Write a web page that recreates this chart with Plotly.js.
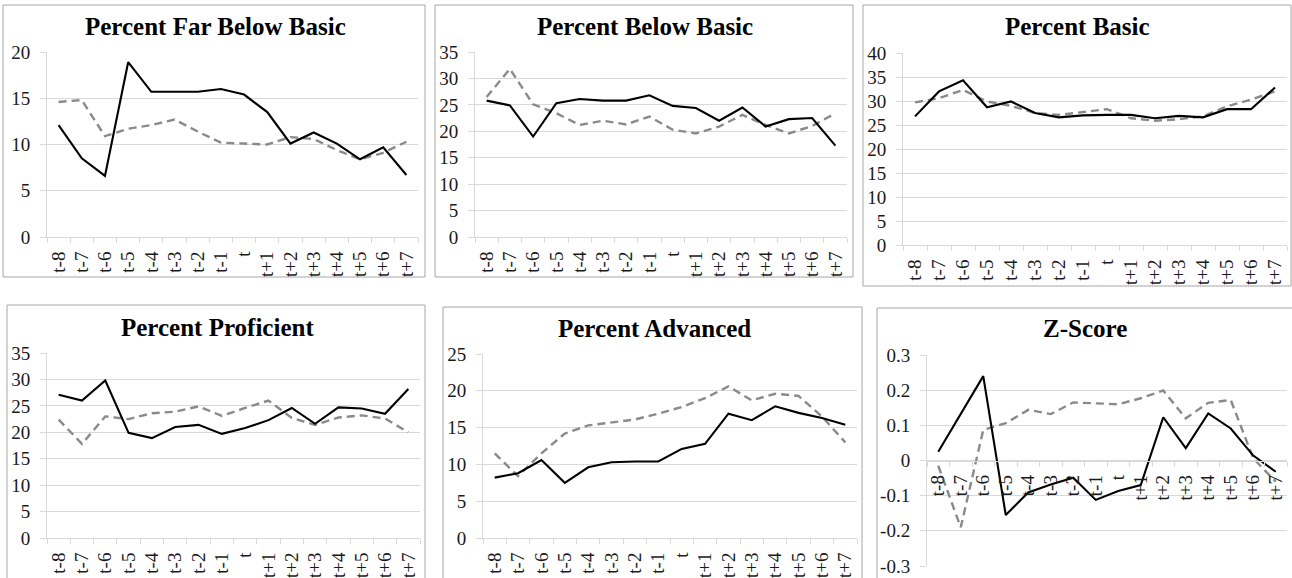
<!DOCTYPE html>
<html>
<head>
<meta charset="utf-8">
<script src="https://cdn.plot.ly/plotly-3.0.1.min.js"></script>
<style>html,body{margin:0;padding:0;background:#fff;}#chart{width:1292px;height:578px;}</style>
</head>
<body>
<div id="chart"></div>
<script>
// ---------- data ----------
const categories = ['t-8','t-7','t-6','t-5','t-4','t-3','t-2','t-1','t','t+1','t+2','t+3','t+4','t+5','t+6','t+7'];

const titles = ['Percent Far Below Basic','Percent Below Basic','Percent Basic','Percent Proficient','Percent Advanced','Z-Score'];

const farBelowSolid  = [12.1, 8.5, 6.6, 18.9, 15.7, 15.7, 15.7, 16.0, 15.4, 13.5, 10.1, 11.3, 10.1, 8.4, 9.7, 6.7];
const farBelowDashed = [14.6, 14.8, 10.9, 11.7, 12.1, 12.7, 11.4, 10.2, 10.1, 10.0, 10.8, 10.6, 9.4, 8.4, 9.1, 10.3];

const belowSolid  = [25.8, 24.9, 19.0, 25.3, 26.1, 25.8, 25.8, 26.8, 24.8, 24.4, 22.0, 24.5, 20.9, 22.3, 22.5, 17.3];
const belowDashed = [26.5, 31.8, 25.1, 23.4, 21.2, 22.0, 21.3, 22.8, 20.3, 19.6, 20.9, 23.1, 21.2, 19.6, 21.0, 23.4];

const basicSolid  = [26.8, 32.0, 34.3, 28.7, 29.9, 27.5, 26.6, 27.0, 27.1, 27.1, 26.4, 26.9, 26.6, 28.3, 28.3, 32.8];
const basicDashed = [29.7, 30.6, 32.3, 29.9, 29.0, 27.5, 27.1, 27.7, 28.3, 26.4, 25.9, 26.2, 26.8, 28.9, 30.3, 32.0];

const proficientSolid  = [27.1, 26.0, 29.8, 19.9, 18.9, 21.0, 21.4, 19.7, 20.8, 22.3, 24.6, 21.6, 24.7, 24.5, 23.5, 28.2];
const proficientDashed = [22.4, 17.8, 23.0, 22.5, 23.6, 23.9, 24.9, 23.1, 24.6, 26.0, 22.7, 21.4, 22.8, 23.2, 22.6, 20.0];

const advancedSolid  = [8.2, 8.8, 10.6, 7.5, 9.6, 10.3, 10.4, 10.4, 12.1, 12.8, 16.9, 16.0, 17.9, 17.0, 16.3, 15.4];
const advancedDashed = [11.5, 8.4, 11.5, 14.2, 15.3, 15.7, 16.1, 16.9, 17.8, 19.0, 20.6, 18.7, 19.6, 19.3, 16.5, 13.0];

const zSolid  = [0.025, 0.134, 0.240, -0.155, -0.091, -0.068, -0.049, -0.112, -0.087, -0.070, 0.123, 0.035, 0.134, 0.091, 0.014, -0.032];
const zDashed = [-0.015, -0.190, 0.087, 0.106, 0.144, 0.132, 0.165, 0.163, 0.160, 0.177, 0.199, 0.120, 0.164, 0.172, 0.006, -0.060];

const zTickVals = [-0.3, -0.2, -0.1, 0, 0.1, 0.2, 0.3];
const zTickText = ['-0.3', '-0.2', '-0.1', '0', '0.1', '0.2', '0.3'];

const seriesSolid  = [farBelowSolid, belowSolid, basicSolid, proficientSolid, advancedSolid, zSolid];
const seriesDashed = [farBelowDashed, belowDashed, basicDashed, proficientDashed, advancedDashed, zDashed];
const yRanges = [[0,20],[0,35],[0,40],[0,35],[0,25],[-0.3,0.3]];

// ---------- layout (pixel geometry) ----------
const W = 1292, H = 578;
const panels = [
  {plot:[47,418,52,237],   box:[3,5,425,277],     title:[215,26]},
  {plot:[475,847,52,237],  box:[435,5,853,277],   title:[645,26]},
  {plot:[903,1287,53,245], box:[863,5,1291,286],  title:[1077,26]},
  {plot:[47,420,353,538],  box:[7,305,425,590],   title:[217,327]},
  {plot:[483,857,354,538], box:[443,307,862,590], title:[654,328]},
  {plot:[927,1287,355,566],box:[877,308,1300,590],title:[1085,328]}
];
const px = x => x / W;
const py = y => 1 - y / H;

const serif = 'Liberation Serif';
const grid = '#d9d9d9';
const traces = [];
const layout = {
  width: W, height: H,
  margin: {l:0, r:0, t:0, b:0},
  paper_bgcolor: '#fff', plot_bgcolor: 'rgba(0,0,0,0)',
  showlegend: false,
  font: {family: serif, size: 19, color: '#1a1a1a'},
  annotations: [], shapes: []
};

panels.forEach((p, i) => {
  const n = i + 1;
  const xa = 'x' + (n === 1 ? '' : n), ya = 'y' + (n === 1 ? '' : n);
  const xk = 'xaxis' + (n === 1 ? '' : n), yk = 'yaxis' + (n === 1 ? '' : n);
  traces.push({x: categories, y: seriesDashed[i], xaxis: xa, yaxis: ya, type: 'scatter', mode: 'lines',
    line: {color: '#8a8a8a', width: 2.4, dash: '8px,5px'}, hoverinfo: 'skip'});
  traces.push({x: categories, y: seriesSolid[i], xaxis: xa, yaxis: ya, type: 'scatter', mode: 'lines',
    line: {color: '#000', width: 2.1}, hoverinfo: 'skip'});
  const yd = [py(p.plot[3]), py(p.plot[2])];
  const xaxis = {
    domain: [px(p.plot[0]), px(p.plot[1])],
    type: 'category', anchor: ya,
    range: [-0.5, categories.length - 0.5],
    tickmode: 'linear', tick0: 0, dtick: 1,
    showgrid: false, zeroline: false,
    showline: true, linecolor: grid, linewidth: 1,
    ticks: 'outside', ticklen: 5, tickcolor: grid, tickson: 'boundaries',
    tickangle: -90, ticklabelstandoff: 6,
    tickfont: {family: serif, size: 19, color: '#1a1a1a'},
    fixedrange: true
  };
  const yaxis = {
    domain: yd, anchor: xa, range: yRanges[i],
    showgrid: true, gridcolor: grid, gridwidth: 1, zeroline: false,
    showline: true, linecolor: grid, linewidth: 1,
    ticks: 'outside', ticklen: 6, tickcolor: grid,
    ticklabelstandoff: 6,
    tickfont: {family: serif, size: 19, color: '#1a1a1a'},
    fixedrange: true
  };
  if (i === 5) {
    xaxis.anchor = 'free';
    xaxis.position = (yd[0] + yd[1]) / 2;
    yaxis.tickvals = zTickVals;
    yaxis.ticktext = zTickText;
  } else {
    yaxis.dtick = 5;
  }
  layout[xk] = xaxis;
  layout[yk] = yaxis;
  layout.shapes.push({type: 'rect', xref: 'paper', yref: 'paper',
    x0: px(p.box[0]), x1: px(p.box[2]), y0: py(p.box[3]), y1: py(p.box[1]),
    line: {color: '#a6a6a6', width: 1}, fillcolor: 'rgba(0,0,0,0)', layer: 'below'});
  layout.annotations.push({text: '<b>' + titles[i] + '</b>', xref: 'paper', yref: 'paper',
    x: px(p.title[0]), y: py(p.title[1]), xanchor: 'center', yanchor: 'middle', showarrow: false,
    font: {family: serif, size: 25, color: '#000'}});
});

Plotly.newPlot('chart', traces, layout, {staticPlot: true, displayModeBar: false});
</script>
</body>
</html>
